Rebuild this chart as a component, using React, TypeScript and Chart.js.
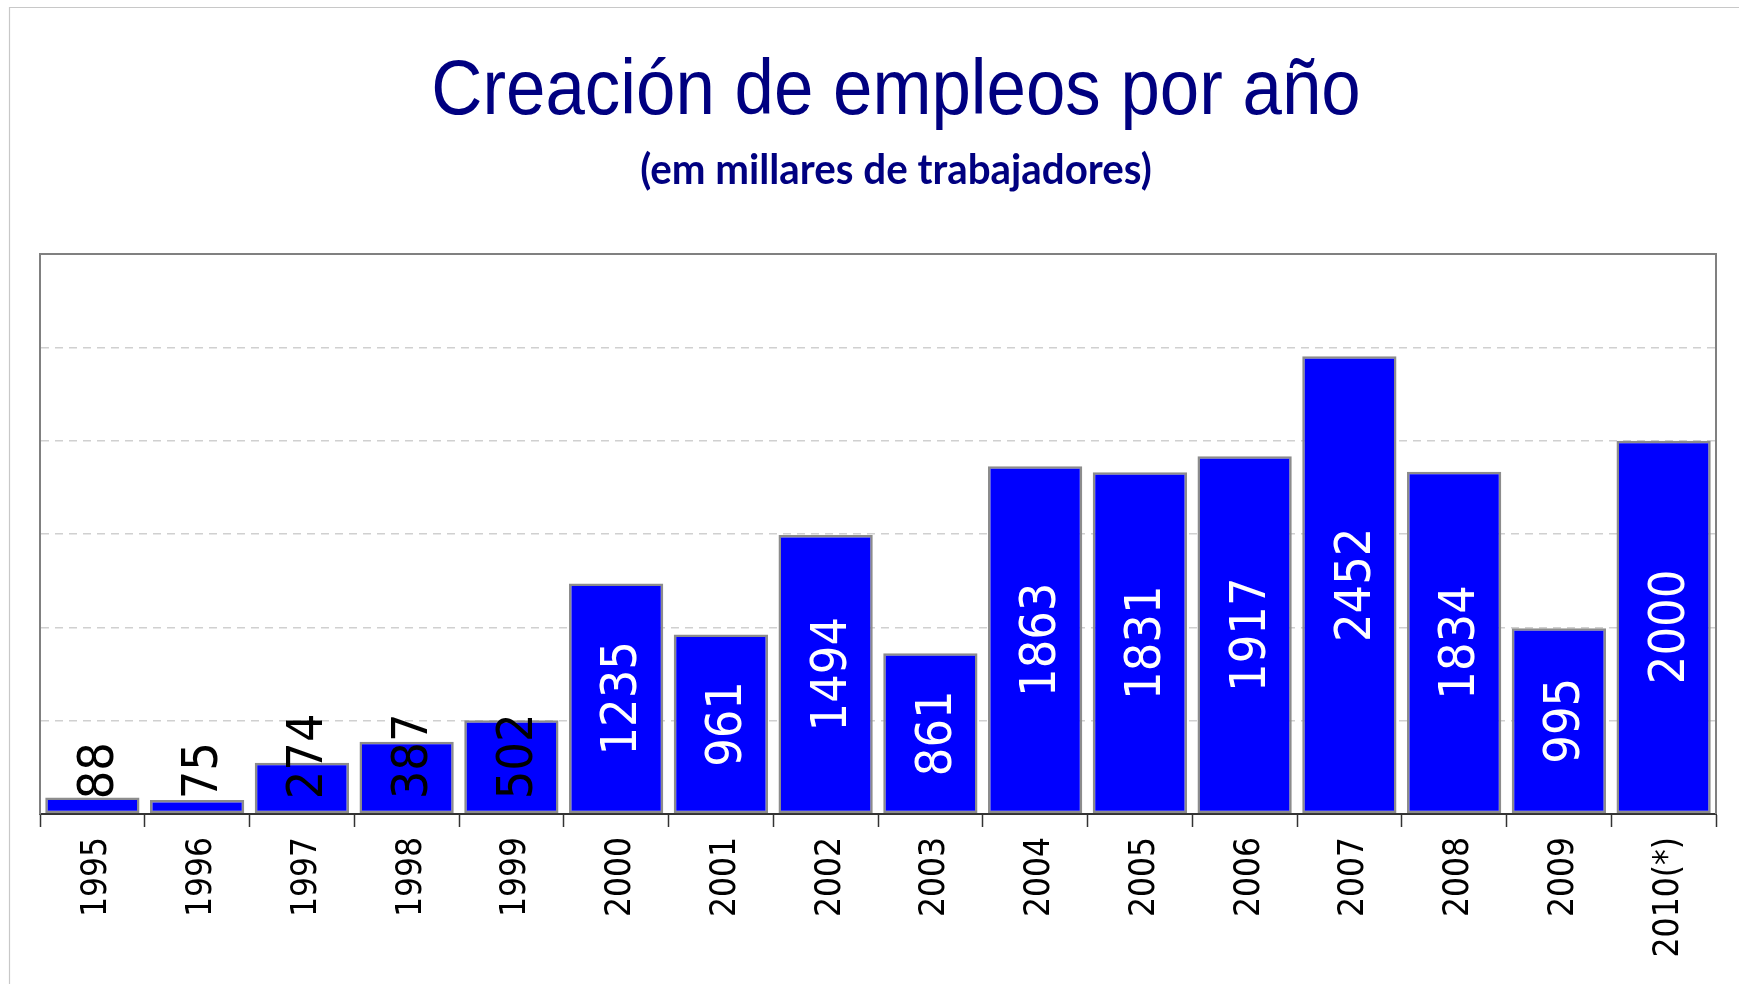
import React, { useEffect, useRef } from "react";
import { Chart, registerables } from "chart.js";

Chart.register(...registerables);

const TITLE = "Creación de empleos por año";
const SUBTITLE = "(em millares de trabajadores)";
const YEARS = ["1995", "1996", "1997", "1998", "1999", "2000", "2001", "2002", "2003", "2004", "2005", "2006", "2007", "2008", "2009", "2010(*)"];
const JOBS = [88, 75, 274, 387, 502, 1235, 961, 1494, 861, 1863, 1831, 1917, 2452, 1834, 995, 2000];
const Y_MIN = 0;
const Y_MAX = 3000;
const Y_STEP = 500;

const LABEL_FONT = "'DejaVu Sans Condensed', 'DejaVu Sans', sans-serif";
const VALUE_SIZE = 50;

const framePlugin = {
  id: "frames",
  beforeDraw(chart: any) {
    const ctx = chart.ctx;
    ctx.save();
    ctx.strokeStyle = "#c8c8c8";
    ctx.lineWidth = 1.2;
    ctx.beginPath();
    ctx.moveTo(9.5, chart.height);
    ctx.lineTo(9.5, 7.5);
    ctx.lineTo(chart.width, 7.5);
    ctx.stroke();
    ctx.restore();
  },
  beforeDatasetsDraw(chart: any) {
    const { ctx, chartArea } = chart;
    ctx.save();
    ctx.strokeStyle = "#808080";
    ctx.lineWidth = 2;
    ctx.beginPath();
    ctx.moveTo(chartArea.left, chartArea.top);
    ctx.lineTo(chartArea.right, chartArea.top);
    ctx.lineTo(chartArea.right, chartArea.bottom);
    ctx.stroke();
    ctx.restore();
  },
  afterDraw(chart: any) {
    const ctx = chart.ctx;
    ctx.save();
    ctx.fillStyle = "#000080";
    ctx.textAlign = "center";
    ctx.textBaseline = "alphabetic";
    ctx.font = "77px 'Liberation Sans', Arial, sans-serif";
    ctx.save();
    ctx.translate(896, 114);
    ctx.scale(0.92, 1);
    ctx.fillText(TITLE, 0, 0);
    ctx.restore();
    ctx.font = "bold 42px Lato, 'Open Sans', sans-serif";
    ctx.save();
    ctx.translate(896, 184);
    ctx.scale(0.96, 1);
    ctx.fillText(SUBTITLE, 0, 0);
    ctx.restore();
    ctx.restore();
  },
};

const valueLabelPlugin = {
  id: "valueLabels",
  afterDatasetsDraw(chart: any) {
    const ctx = chart.ctx;
    const meta = chart.getDatasetMeta(0);
    ctx.save();
    ctx.font = VALUE_SIZE + "px " + LABEL_FONT;
    ctx.textAlign = "center";
    ctx.textBaseline = "alphabetic";
    const capH = VALUE_SIZE * 0.729;
    meta.data.forEach((bar: any, i: number) => {
      const text = String(JOBS[i]);
      const len = ctx.measureText(text).width;
      const top = bar.y;
      const base = bar.base;
      let center = (top + base) / 2;
      const maxBottom = base - 14;
      if (center + len / 2 > maxBottom) center = maxBottom - len / 2;
      const fits = base - top > len + 8;
      ctx.fillStyle = fits ? "#ffffff" : "#000000";
      ctx.save();
      ctx.translate(bar.x + 2 + capH / 2, center);
      ctx.rotate(-Math.PI / 2);
      ctx.fillText(text, 0, 0);
      ctx.restore();
    });
    ctx.restore();
  },
};

export default function App() {
  const ref = useRef<HTMLCanvasElement | null>(null);
  useEffect(() => {
    if (!ref.current) return;
    const chart = new Chart(ref.current, {
      type: "bar",
      data: {
        labels: YEARS,
        datasets: [
          {
            data: JOBS,
            backgroundColor: "#0000ff",
            borderColor: "#8c8c8c",
            borderWidth: 2.5,
            borderSkipped: false,
            barPercentage: 0.9,
            categoryPercentage: 1.0,
          },
        ],
      },
      options: {
        animation: false,
        responsive: false,
        layout: { padding: { top: 254, left: 40, right: 23, bottom: 0 } },
        plugins: {
          legend: { display: false },
          title: { display: false },
          tooltip: { enabled: false },
        },
        scales: {
          x: {
            grid: {
              display: true,
              drawOnChartArea: false,
              drawTicks: true,
              tickLength: 13,
              tickColor: "#333333",
              tickWidth: 1.5,
              offset: true,
            },
            border: { display: true, color: "#333333", width: 2 },
            ticks: {
              autoSkip: false,
              minRotation: 90,
              maxRotation: 90,
              padding: 10,
              labelOffset: 5,
              color: "#000000",
              font: { family: LABEL_FONT, size: 35 },
            },
            afterFit: (s: any) => {
              s.height = 170;
            },
          },
          y: {
            min: Y_MIN,
            max: Y_MAX,
            ticks: { display: false, stepSize: Y_STEP },
            grid: { color: "#d0d0d0", lineWidth: 1.5, drawTicks: false },
            border: { display: true, color: "#808080", width: 2, dash: [8, 6] },
            afterFit: (s: any) => {
              s.width = 0;
            },
          },
        },
      },
      plugins: [framePlugin, valueLabelPlugin],
    });
    return () => chart.destroy();
  }, []);
  return (
    <div style={{ position: "fixed", left: 0, top: 0, width: 1739, height: 984, background: "#ffffff" }}>
      <canvas ref={ref} width={1739} height={984} style={{ display: "block" }} />
    </div>
  );
}
